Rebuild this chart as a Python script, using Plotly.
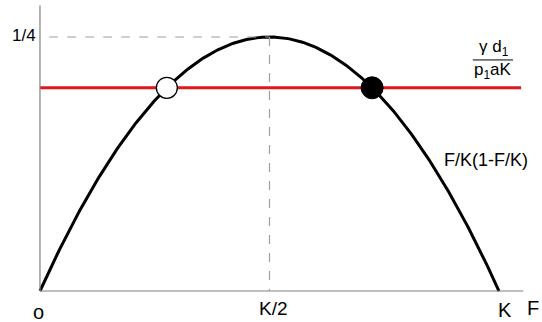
import numpy as np
import plotly.graph_objects as go

# Logistic growth term F/K(1-F/K), F measured in units of K
F = np.linspace(0.0, 1.0, 301)
growth = F * (1 - F)

# Threshold level gamma d1 / (p1 a K)
threshold = 0.2
roots = [(1 - np.sqrt(1 - 4 * threshold)) / 2, (1 + np.sqrt(1 - 4 * threshold)) / 2]

x_ticks = [0.0, 0.5, 1.0]
x_tick_labels = ["o", "K/2", "K"]
peak = 0.25

xr = [-0.0871, 1.0937]
yr = [-0.0305, 0.2864]

font = dict(family="Liberation Sans, Arial, sans-serif", size=18, color="black")

fig = go.Figure()

# parabola
fig.add_trace(go.Scatter(x=F, y=growth, mode="lines",
                         line=dict(color="black", width=3), hoverinfo="skip"))
# threshold line
fig.add_trace(go.Scatter(x=[0.0, 1.048], y=[threshold, threshold], mode="lines",
                         line=dict(color="#e0161b", width=3), hoverinfo="skip"))
# unstable (open) and stable (filled) equilibria
fig.add_trace(go.Scatter(x=[roots[0]], y=[threshold], mode="markers",
                         marker=dict(size=21, color="white", line=dict(color="black", width=1.3))))
fig.add_trace(go.Scatter(x=[roots[1]], y=[threshold], mode="markers",
                         marker=dict(size=22, color="black", line=dict(color="black", width=1))))

shapes = [
    # axes
    dict(type="line", x0=0, x1=0, y0=0, y1=0.281, line=dict(color="#808080", width=1.2)),
    dict(type="line", x0=0, x1=1.053, y0=0, y1=0, line=dict(color="#808080", width=1.2)),
    # guides to the maximum
    dict(type="line", x0=0.02, x1=0.5, y0=peak, y1=peak,
         line=dict(color="#a0a0a0", width=1.2, dash="dash")),
    dict(type="line", x0=0.5, x1=0.5, y0=peak, y1=0,
         line=dict(color="#a0a0a0", width=1.2, dash="dash")),
    # fraction bar of the threshold label
    dict(type="line", x0=0.943, x1=1.0305, y0=0.2274, y1=0.2274,
         line=dict(color="black", width=1)),
]

annotations = [
    dict(x=-0.004, y=0.251, text="1/4", xanchor="right", yanchor="middle", showarrow=False,
         font=dict(font, size=17)),
    dict(x=1.074, y=-0.0172, text="F", xanchor="center", yanchor="middle", showarrow=False,
         font=dict(font, size=20)),
    dict(x=0.9717, y=0.129, text="F/K(1-F/K)", xanchor="center", yanchor="middle", showarrow=False,
         font=font),
    dict(x=0.99, y=0.2395, text="γ d<sub>1</sub>", xanchor="center", yanchor="middle", showarrow=False,
         font=dict(font, size=17)),
    dict(x=0.987, y=0.2165, text="p<sub>1</sub>aK", xanchor="center", yanchor="middle", showarrow=False,
         font=dict(font, size=17)),
]
tick_y = [-0.0207, -0.0172, -0.0182]
tick_dx = [-0.004, 0.0087, 0.012]
tick_size = [20, 19, 20]
for xv, lab, ty, dx, sz in zip(x_ticks, x_tick_labels, tick_y, tick_dx, tick_size):
    annotations.append(dict(x=xv + dx, y=ty, text=lab, xanchor="center", yanchor="middle",
                            showarrow=False, font=dict(font, size=sz)))

fig.update_layout(
    width=542, height=322,
    margin=dict(l=0, r=0, t=0, b=0),
    paper_bgcolor="white", plot_bgcolor="white",
    showlegend=False,
    xaxis=dict(range=xr, visible=False, fixedrange=True),
    yaxis=dict(range=yr, visible=False, fixedrange=True),
    shapes=shapes,
    annotations=annotations,
)

fig.write_html("out.html")
